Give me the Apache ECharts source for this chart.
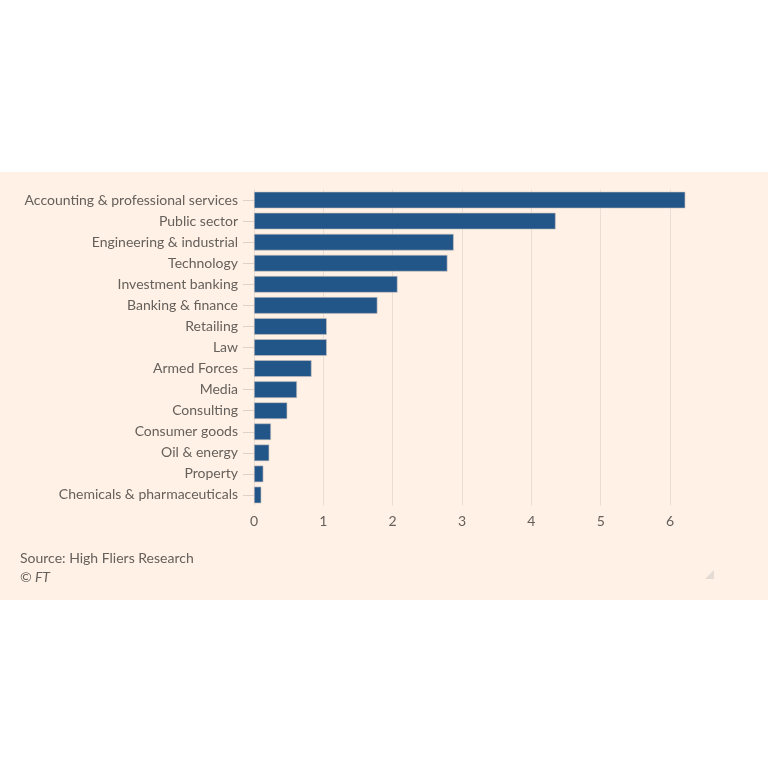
<!DOCTYPE html>
<html><head><meta charset="utf-8">
<script src="https://cdn.jsdelivr.net/npm/echarts@6/dist/echarts.min.js"></script>
<style>
html,body{margin:0;padding:0;background:#fff;width:768px;height:768px;overflow:hidden}
#band{position:absolute;left:0;top:172px;width:768px;height:428px;background:#FFF1E5}
#c{width:768px;height:428px}
</style></head><body>
<div id="band"><div id="c"></div></div>
<script>
const categories = ["Accounting & professional services","Public sector","Engineering & industrial","Technology","Investment banking","Banking & finance","Retailing","Law","Armed Forces","Media","Consulting","Consumer goods","Oil & energy","Property","Chemicals & pharmaceuticals"];
const values = [6.22,4.35,2.88,2.79,2.07,1.78,1.05,1.05,0.83,0.62,0.48,0.245,0.22,0.135,0.105];
const xTicks = [0,1,2,3,4,5,6];
const sourceText = "Source: High Fliers Research";
const creditText = "© FT";

const chart = echarts.init(document.getElementById('c'), null, {renderer:'canvas'});
chart.setOption({
  backgroundColor:'#FFF1E5',
  animation:false,
  textStyle:{fontFamily:'Lato'},
  grid:{left:254,right:63.3,top:17.5,bottom:94.5,containLabel:false},
  xAxis:{type:'value',min:0,max:6.5,interval:1,
    axisLine:{show:false},axisTick:{show:false},
    axisLabel:{color:'#66605c',fontSize:14,margin:9,showMaxLabel:false,
      formatter:v=>xTicks.includes(v)?String(v):''},
    splitLine:{show:true,showMaxLine:false,lineStyle:{color:'#e9ded4',width:1}}},
  yAxis:{type:'category',data:categories,inverse:true,
    axisLine:{show:false},
    axisTick:{show:true,alignWithLabel:true,length:11,lineStyle:{color:'#ddd2c8'}},
    axisLabel:{color:'#66605c',fontSize:14,margin:16,padding:[3,0,0,0]}},
  series:[{type:'bar',data:values,barCategoryGap:'21%',
    itemStyle:{color:'#225689',borderColor:'#c9c3c0',borderWidth:0.6}}],
  graphic:[
    {type:'text',left:20,top:379,style:{text:sourceText,fill:'#66605c',font:'14px Lato'}},
    {type:'text',left:20,top:398,style:{text:creditText,fill:'#66605c',font:'italic 14px Lato'}},
    {type:'polygon',shape:{points:[[714,398],[714,407],[705,407]]},style:{fill:'#e3dbd4'}}
  ]
});
</script></body></html>
